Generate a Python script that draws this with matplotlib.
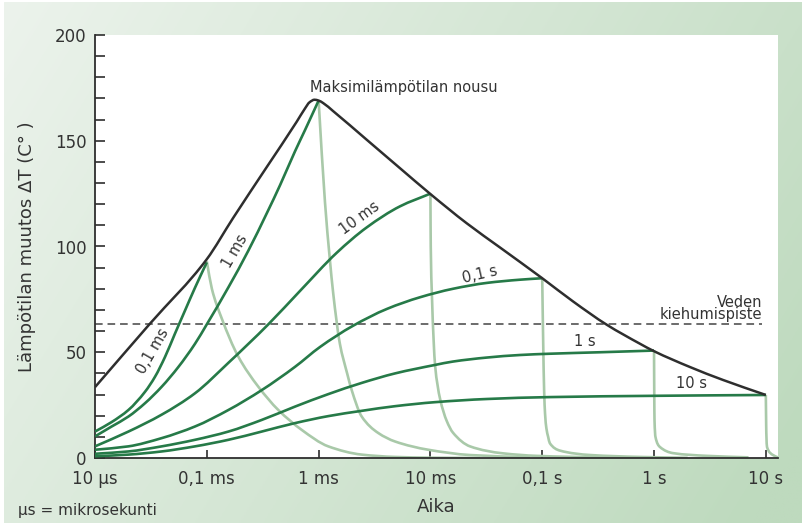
import numpy as np
import matplotlib
matplotlib.use("Agg")
import matplotlib.pyplot as plt
from matplotlib.ticker import NullLocator, MultipleLocator
from matplotlib.path import Path
from matplotlib.patches import PathPatch

# --- data (time in seconds, dT in degrees) ---
tick_t = [1e-5, 1e-4, 1e-3, 1e-2, 1e-1, 1, 10]
tick_lbl = ["10 µs", "0,1 ms", "1 ms", "10 ms", "0,1 s", "1 s", "10 s"]

# envelope: maximum temperature rise
env_t = [1e-5, 3.1e-5, 1e-4, 1.72e-4, 3.43e-4, 6.37e-4, 7.5e-4, 8.3e-4, 9.2e-4,
         1e-3, 1.1e-3, 1.35e-3, 2.69e-3, 5.35e-3, 1e-2, 2.11e-2, 4.2e-2,
         0.1, 0.189, 0.378, 0.75, 1, 2.1, 4.14, 10]
env_dT = [33.5, 63.5, 94, 113.5, 137.5, 159, 165, 168.2, 169.4,
          169, 167.8, 164, 150.5, 137, 124.8, 111, 99.5,
          85, 74, 63, 54, 50.5, 43, 36.9, 29.8]

# heating curves (during pulse)
h01ms_t = [1e-5, 1.41e-5, 1.99e-5, 2.8e-5, 3.44e-5, 4.23e-5, 5.19e-5, 6.38e-5,
           7.84e-5, 1e-4]
h01ms = [12.5, 17, 22.7, 31.3, 38.4, 47.8, 58.8, 69.7, 80.5, 92.5]

h1ms_t = [1e-5, 1.41e-5, 1.99e-5, 2.8e-5, 3.95e-5, 5.56e-5, 7.84e-5, 1e-4,
          1.56e-4, 2.35e-4, 3.46e-4, 4.52e-4, 6.15e-4, 7.55e-4, 1e-3]
h1ms = [10.2, 14.9, 19.6, 25.9, 33.7, 43, 54, 63.2, 80.7, 98, 116, 129, 145,
        155, 169]

h10ms_t = [1e-5, 1.99e-5, 3.95e-5, 7.84e-5, 1.56e-4, 3.55e-4, 6.82e-4, 1.45e-3,
           2.69e-3, 5.35e-3, 1e-2]
h10ms = [5.5, 12.5, 20.5, 30.6, 45, 63.2, 79, 97, 109, 119, 125]

h01s_t = [1e-5, 1.99e-5, 3.95e-5, 7.84e-5, 1.56e-4, 3.1e-4, 6.15e-4, 1.03e-3,
          2.03e-3, 4.09e-3, 8.07e-3, 1.59e-2, 3.21e-2, 6.32e-2, 0.1]
h01s = [3.9, 5.5, 9.4, 14.9, 22.7, 32.1, 43.1, 52.5, 62.5, 70.5, 76, 80,
        82.8, 84.3, 85]

h1s_t = [1e-5, 1.99e-5, 3.95e-5, 7.84e-5, 1.56e-4, 3.1e-4, 6.15e-4, 1.22e-3,
         2.43e-3, 4.83e-3, 1.1e-2, 1.59e-2, 3.21e-2, 6.32e-2, 0.117, 0.329, 1]
h1s = [2.0, 3.1, 5.5, 8.6, 12.5, 18, 24.3, 30.2, 35.5, 40, 44, 45.6, 47.5,
       48.7, 49.3, 50, 50.8]

h10s_t = [1e-5, 1.99e-5, 3.95e-5, 7.84e-5, 1.56e-4, 3.1e-4, 6.15e-4, 1.22e-3,
          2.43e-3, 4.83e-3, 1.1e-2, 3.21e-2, 0.117, 1, 10]
h10s = [0.8, 1.6, 3.1, 5.5, 8.6, 12.5, 16.5, 19.8, 22.3, 24.5, 26.4, 27.9,
        28.8, 29.4, 29.8]

# cooling curves (after pulse)
c01ms_t = [1e-4, 1.11e-4, 1.36e-4, 1.91e-4, 2.89e-4, 4.36e-4, 7.06e-4, 1.22e-3,
           2.43e-3, 4.83e-3, 1e-2, 2.78e-2]
c01ms = [93, 80, 66, 48, 33.7, 22.7, 13.3, 5.5, 1.6, 0.5, 0.15, 0.02]

c1ms_t = [1e-3, 1.14e-3, 1.26e-3, 1.35e-3, 1.55e-3, 1.8e-3, 1.98e-3, 2.43e-3,
          3.42e-3, 4.83e-3, 9.57e-3, 2.26e-2, 7.8e-2]
c1ms = [169, 121, 94, 78, 54, 40, 32, 19.6, 11.8, 7.8, 3.9, 1.4, 0.3]

c10ms_t = [1e-2, 1.007e-2, 1.03e-2, 1.07e-2, 1.1e-2, 1.22e-2, 1.4e-2, 1.59e-2,
           2.26e-2, 4.46e-2, 8.97e-2, 0.329, 0.8]
c10ms = [125, 100, 78, 55, 44, 28, 17.5, 12, 5.5, 2.2, 1, 0.3, 0.1]

c01s_t = [0.1, 0.102, 0.104, 0.106, 0.109, 0.113, 0.117, 0.144, 0.27, 0.75, 2]
c01s = [85, 55, 32, 21, 14, 10, 7, 3.5, 1.4, 0.5, 0.1]

c1s_t = [1, 1.005, 1.01, 1.03, 1.13, 1.48, 3, 7]
c1s = [51, 30, 18, 10, 5.2, 2.3, 1, 0.3]

c10s_t = [10, 10.05, 10.1, 10.25, 11.6, 12.8]
c10s = [29.8, 20, 12, 5.2, 1.4, 0.3]

boil_dT = 63.4
boil_end_t = 9.25

# curve labels: text, time, dT, rotation
lbl_text = ["0,1 ms", "1 ms", "10 ms", "0,1 s", "1 s", "10 s"]
lbl_t = [3.26e-5, 1.79e-4, 2.34e-3, 2.78e-2, 0.241, 2.17]
lbl_dT = [50.7, 98, 113.4, 86.5, 55, 35]
lbl_rot = [60, 60, 36, 13, 0, 0]


def smooth_line(ax, t, v, **kw):
    # monotone cubic (Fritsch-Carlson) drawn as bezier segments in log-x space
    x = np.log10(t)
    y = np.asarray(v, dtype=float)
    h = np.diff(x)
    d = np.diff(y) / h
    m = np.zeros_like(y)
    m[0], m[-1] = d[0], d[-1]
    for i in range(1, len(y) - 1):
        if d[i - 1] * d[i] > 0:
            w1 = 2 * h[i] + h[i - 1]
            w2 = h[i] + 2 * h[i - 1]
            m[i] = (w1 + w2) / (w1 / d[i - 1] + w2 / d[i])
    verts = [(x[0], y[0])]
    codes = [Path.MOVETO]
    for i in range(len(y) - 1):
        verts += [(x[i] + h[i] / 3, y[i] + m[i] * h[i] / 3),
                  (x[i + 1] - h[i] / 3, y[i + 1] - m[i + 1] * h[i] / 3),
                  (x[i + 1], y[i + 1])]
        codes += [Path.CURVE4] * 3
    verts = np.array(verts)
    verts[:, 0] = 10 ** verts[:, 0]
    ax.add_patch(PathPatch(Path(verts, codes), fill=False, **kw))


# --- figure ---
W, H = 803, 526
fig = plt.figure(figsize=(W / 100, H / 100), dpi=100, facecolor="white")

# green gradient background
bg = fig.add_axes([4 / W, 3 / H, 1 - 4 / W, 1 - 5 / H])
gx, gy = np.meshgrid(np.linspace(0, 1, 300), np.linspace(0, 1, 200))
s = np.clip(0.75 * gx + 0.3 * gy, 0, 1)[..., None]
c0 = np.array([236, 243, 236]) / 255
c1 = np.array([190, 218, 190]) / 255
bg.imshow(c0 + s * (c1 - c0), aspect="auto", extent=[0, 1, 0, 1], origin="upper")
bg.axis("off")

ax = fig.add_axes([95 / W, 68 / H, 683 / W, 423 / H])
ax.set_facecolor("white")
ax.set_xscale("log")
ax.set_xlim(1e-5, 12.85)
ax.set_ylim(0, 200)

dark = "#2e2e2e"
green = "#267a48"
light = "#a9c9a9"

for t, v in [(c01ms_t, c01ms), (c1ms_t, c1ms), (c10ms_t, c10ms),
             (c01s_t, c01s), (c1s_t, c1s), (c10s_t, c10s)]:
    smooth_line(ax, t, v, edgecolor=light, lw=1.9, zorder=2, capstyle="butt")

for t, v in [(h01ms_t, h01ms), (h1ms_t, h1ms), (h10ms_t, h10ms),
             (h01s_t, h01s), (h1s_t, h1s), (h10s_t, h10s)]:
    smooth_line(ax, t, v, edgecolor=green, lw=1.9, zorder=3)

smooth_line(ax, env_t, env_dT, edgecolor=dark, lw=1.8, zorder=4)

ax.plot([1e-5, boil_end_t], [boil_dT, boil_dT], color="#444444", lw=1.1,
        dashes=(5, 3.2), zorder=1)

for txt, t, v, r in zip(lbl_text, lbl_t, lbl_dT, lbl_rot):
    ax.text(t, v, txt, rotation=r, ha="center", va="center", fontsize=10.5,
            color="#333333", rotation_mode="anchor", zorder=5)

ax.text(8.37e-4, 175, "Maksimilämpötilan nousu", ha="left", va="center",
        fontsize=10.5, color="#333333")
ax.text(boil_end_t, 64.3, "Veden\nkiehumispiste", ha="right", va="bottom",
        fontsize=10.5, color="#333333", linespacing=0.72)

for side in ["top", "right"]:
    ax.spines[side].set_visible(False)
for side in ["left", "bottom"]:
    ax.spines[side].set_color(dark)
    ax.spines[side].set_linewidth(1.3)

ax.set_xticks(tick_t)
ax.set_xticklabels(tick_lbl)
ax.xaxis.set_minor_locator(NullLocator())
ax.yaxis.set_major_locator(MultipleLocator(50))
ax.yaxis.set_minor_locator(MultipleLocator(10))
ax.tick_params(axis="both", which="both", direction="in", color=dark,
               width=1.2, labelsize=12, labelcolor="#333333")
ax.tick_params(axis="y", which="both", length=7.5, pad=6)
ax.tick_params(axis="x", which="major", length=6, pad=9)

ax.set_xlabel("Aika", fontsize=13, color="#333333", labelpad=7)
ax.set_ylabel("Lämpötilan muutos ΔT (C° )", fontsize=13, color="#333333",
              labelpad=14)

fig.text(18 / W, 1 - 510 / H, "µs = mikrosekunti", fontsize=11,
         color="#333333", va="center", ha="left")

fig.savefig("out.png", dpi=100, facecolor=fig.get_facecolor())
